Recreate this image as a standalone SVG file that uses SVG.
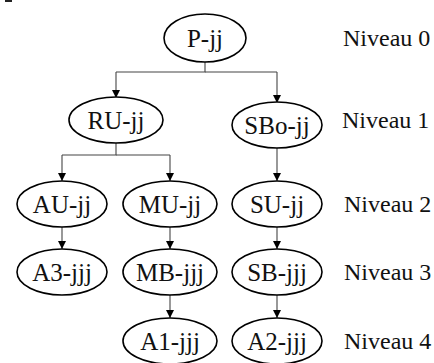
<svg xmlns="http://www.w3.org/2000/svg" width="434" height="363" viewBox="0 0 434 363">
<defs>
<marker id="ah" viewBox="0 0 10 10" refX="10" refY="5" markerWidth="8" markerHeight="9" markerUnits="userSpaceOnUse" orient="auto">
<path d="M0,0 L10,5 L0,10 Z" fill="#000"/>
</marker>
<style>
.n ellipse{fill:#fff;stroke:#000;stroke-width:1.6}
text{font-family:'Liberation Serif','Times New Roman','DejaVu Serif',serif;font-size:24px;fill:#111}
.n text{text-anchor:middle;font-size:25px}
.c path{fill:none;stroke:#444;stroke-width:1.1}
.c path.a{marker-end:url(#ah)}
</style>
</defs>
<rect width="434" height="363" fill="#fff"/>
<rect x="5" y="0" width="7" height="2" fill="#222"/>
<g class="c" id="connectors">
<path d="M205,62 V72 H116"/>
<path class="a" d="M116,72 V98"/>
<path d="M205,72 H277"/>
<path class="a" d="M277,72 V103"/>
<path d="M116,143 V155 H62"/>
<path class="a" d="M62,155 V181"/>
<path d="M116,155 H170"/>
<path class="a" d="M170,155 V181"/>
<path class="a" d="M277,148 V181"/>
<path class="a" d="M62,227 V249"/>
<path class="a" d="M170,227 V249"/>
<path class="a" d="M277,227 V249"/>
<path class="a" d="M170,295 V318"/>
<path class="a" d="M277,295 V318"/>
</g>
<g class="n" id="P-jj"><ellipse cx="205" cy="38" rx="41" ry="24"/><text x="205" y="47">P-jj</text></g>
<g class="n" id="RU-jj"><ellipse cx="116" cy="120" rx="47" ry="23"/><text x="116" y="129">RU-jj</text></g>
<g class="n" id="SBo-jj"><ellipse cx="277" cy="125" rx="45" ry="23"/><text x="277" y="134">SBo-jj</text></g>
<g class="n" id="AU-jj"><ellipse cx="62" cy="204" rx="45" ry="23"/><text x="62" y="213">AU-jj</text></g>
<g class="n" id="MU-jj"><ellipse cx="170" cy="204" rx="47" ry="23"/><text x="170" y="213">MU-jj</text></g>
<g class="n" id="SU-jj"><ellipse cx="277" cy="204" rx="45" ry="23"/><text x="277" y="213">SU-jj</text></g>
<g class="n" id="A3-jjj"><ellipse cx="62" cy="272" rx="45" ry="23"/><text x="62" y="281">A3-jjj</text></g>
<g class="n" id="MB-jjj"><ellipse cx="170" cy="272" rx="47" ry="23"/><text x="170" y="281">MB-jjj</text></g>
<g class="n" id="SB-jjj"><ellipse cx="277" cy="272" rx="45" ry="23"/><text x="277" y="281">SB-jjj</text></g>
<g class="n" id="A1-jjj"><ellipse cx="170" cy="341" rx="47" ry="23"/><text x="170" y="350">A1-jjj</text></g>
<g class="n" id="A2-jjj"><ellipse cx="277" cy="341" rx="45" ry="23"/><text x="277" y="350">A2-jjj</text></g>
<g id="levels">
<text x="343" y="46">Niveau 0</text>
<text x="342" y="128">Niveau 1</text>
<text x="344" y="212">Niveau 2</text>
<text x="344" y="280">Niveau 3</text>
<text x="344" y="349">Niveau 4</text>
</g>
</svg>
